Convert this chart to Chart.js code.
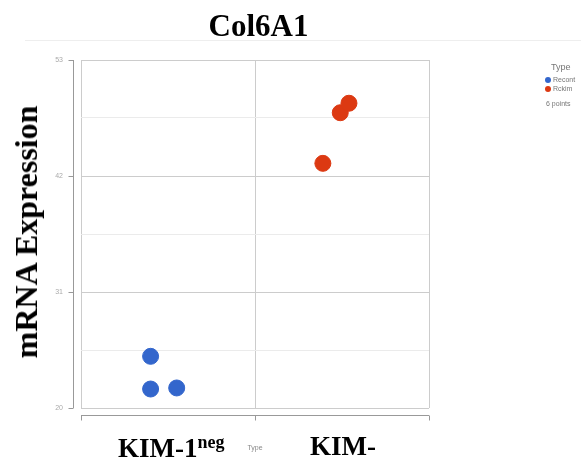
<!DOCTYPE html>
<html>
<head>
<meta charset="utf-8">
<script src="https://cdn.jsdelivr.net/npm/chart.js@4/dist/chart.umd.min.js"></script>
<style>
  body { margin: 0; background: #fff; }
  #wrap { position: relative; width: 581px; height: 458px; overflow: hidden; }
  canvas { position: absolute; left: 0; top: 0; }
  .serif { position: absolute; font-family: "Liberation Serif", "DejaVu Serif", serif; font-weight: bold; color: #000; white-space: nowrap; line-height: 1; }
  .small { position: absolute; font-family: Arial, "Liberation Sans", sans-serif; color: #888; white-space: nowrap; line-height: 1; }
  .dot { display: inline-block; width: 6px; height: 6px; border-radius: 50%; margin-right: 2px; vertical-align: -1px; }
</style>
</head>
<body>
<div id="wrap">
  <canvas id="scatterChart" width="581" height="458"></canvas>
  <div class="serif" id="title" style="left:0; width:517px; text-align:center; top:10px; font-size:31px;">Col6A1</div>
  <div class="serif" id="ylabel" style="left:26px; top:232px; font-size:32px; transform: translate(-50%,-50%) rotate(-90deg);">mRNA Expression</div>
  <div class="serif" style="left:118px; top:433px; font-size:27px;">KIM-1<sup style="font-size:18px; vertical-align:9px;">neg</sup></div>
  <div class="serif" style="left:310px; top:433px; font-size:27px;">KIM-</div>
  <div class="small" style="left:255px; top:444px; font-size:7px; transform:translateX(-50%);">Type</div>
  <div id="legend" class="small" style="left:545px; top:63px; font-size:7px; color:#777;"></div>
</div>
<script>
// values
const seriesNames = ["Recont", "Rckim"];
const seriesColors = ["#3366cc", "#dc3912"];
const recontX = [0.40, 0.40, 0.55];
const recontY = [24.9, 21.8, 21.9];
const rckimX = [1.39, 1.49, 1.54];
const rckimY = [43.2, 48.0, 48.9];
const yTicks = [20, 25.5, 31, 36.5, 42, 47.5, 53];
const yLabelled = [20, 31, 42, 53];
const xTicks = [0, 1, 2];

function toPoints(xs, ys) {
    return xs.map((x, i) => ({ x: x, y: ys[i] }));
}

// axis lines sitting a little apart from the plot frame
const offsetAxes = {
    id: 'offsetAxes',
    afterDraw(chart) {
        const ctx = chart.ctx;
        const area = chart.chartArea;
        const ys = chart.scales.y;
        const xs = chart.scales.x;
        ctx.save();
        // faint line under the title
        ctx.strokeStyle = '#eeeeee';
        ctx.lineWidth = 1;
        ctx.beginPath();
        ctx.moveTo(25, 40.5);
        ctx.lineTo(581, 40.5);
        ctx.stroke();

        ctx.strokeStyle = '#999999';
        ctx.beginPath();
        const ax = Math.round(area.left) - 7.5;
        ctx.moveTo(ax, area.top);
        ctx.lineTo(ax, area.bottom);
        yLabelled.forEach(v => {
            const py = Math.round(ys.getPixelForValue(v)) + 0.5;
            ctx.moveTo(ax - 5, py);
            ctx.lineTo(ax, py);
        });
        const ay = Math.round(area.bottom) + 7.5;
        ctx.moveTo(area.left, ay);
        ctx.lineTo(area.right, ay);
        xTicks.forEach(v => {
            const px = Math.round(xs.getPixelForValue(v)) + 0.5;
            ctx.moveTo(px, ay);
            ctx.lineTo(px, ay + 5);
        });
        ctx.stroke();
        ctx.restore();
    }
};

const ctx = document.getElementById('scatterChart').getContext('2d');
const chart = new Chart(ctx, {
    type: 'scatter',
    data: {
        datasets: [
            {
                label: seriesNames[0],
                data: toPoints(recontX, recontY),
                backgroundColor: seriesColors[0],
                borderColor: seriesColors[0],
                pointRadius: 8,
                pointHoverRadius: 8
            },
            {
                label: seriesNames[1],
                data: toPoints(rckimX, rckimY),
                backgroundColor: seriesColors[1],
                borderColor: seriesColors[1],
                pointRadius: 8,
                pointHoverRadius: 8
            }
        ]
    },
    options: {
        responsive: false,
        animation: false,
        layout: { padding: { top: 60, right: 152, bottom: 0, left: 0 } },
        plugins: {
            legend: { display: false },
            tooltip: { enabled: false }
        },
        scales: {
            x: {
                type: 'linear',
                min: 0,
                max: 2,
                afterBuildTicks: s => { s.ticks = xTicks.map(v => ({ value: v })); },
                afterFit: s => { s.height = 50; },
                ticks: { display: false },
                grid: { color: '#cccccc', drawTicks: false },
                border: { display: false }
            },
            y: {
                min: 20,
                max: 53,
                afterBuildTicks: s => { s.ticks = yTicks.map(v => ({ value: v })); },
                afterFit: s => { s.width = 81; },
                ticks: {
                    padding: 18,
                    color: '#aaaaaa',
                    font: { size: 7, family: 'Arial' },
                    callback: v => yLabelled.includes(v) ? String(v) : ''
                },
                grid: {
                    drawTicks: false,
                    color: c => yLabelled.includes(c.tick.value) ? '#cccccc' : '#ebebeb'
                },
                border: { display: false }
            }
        }
    },
    plugins: [offsetAxes]
});

// legend on the right
const legend = document.getElementById('legend');
legend.innerHTML = '<div style="font-size:9px; margin:0 0 4px 6px;">Type</div>';
seriesNames.forEach((name, i) => {
    const row = document.createElement('div');
    row.style.marginBottom = '2px';
    const dot = document.createElement('span');
    dot.className = 'dot';
    dot.style.backgroundColor = seriesColors[i];
    row.appendChild(dot);
    row.appendChild(document.createTextNode(name));
    legend.appendChild(row);
});
const pts = document.createElement('div');
pts.style.margin = '8px 0 0 1px';
pts.textContent = (recontX.length + rckimX.length) + ' points';
legend.appendChild(pts);
</script>
</body>
</html>
